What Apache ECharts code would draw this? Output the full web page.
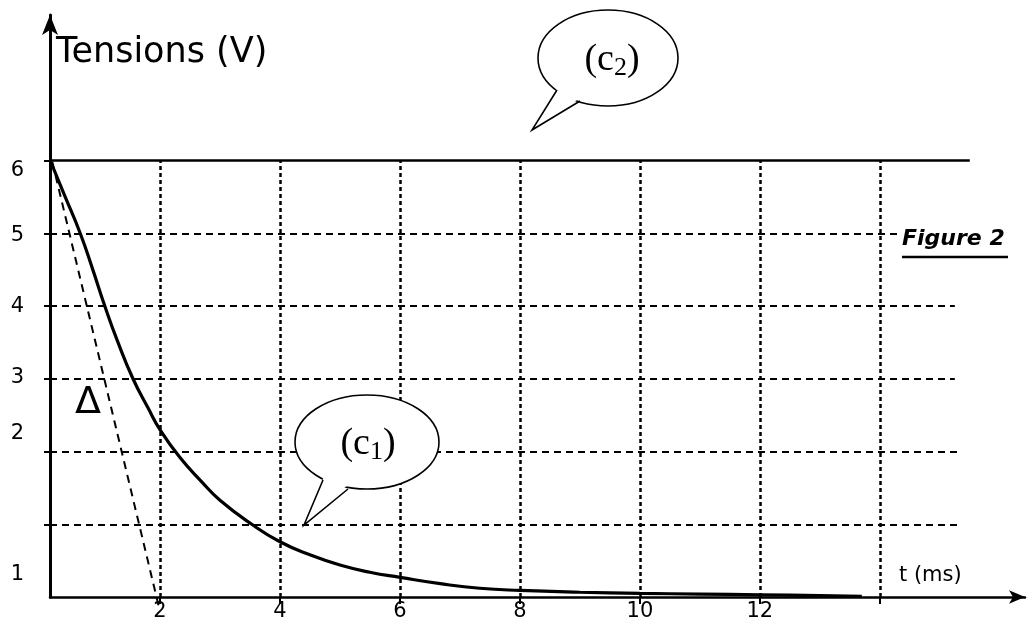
<!DOCTYPE html>
<html>
<head>
<meta charset="utf-8">
<title>Tensions (V)</title>
<script src="https://cdn.jsdelivr.net/npm/echarts@6/dist/echarts.min.js"></script>
<style>
  html, body { margin: 0; padding: 0; background: #fff; }
  #chart { width: 1028px; height: 635px; }
</style>
</head>
<body>
<div id="chart"></div>
<script>
// courbe (c1) : tension qui decroit (t en ms, u en V)
var tC1 = [0.17, 0.42, 0.67, 0.88, 1.08, 1.3, 1.55, 1.8, 2.0, 2.33, 2.7, 3.0, 3.53, 4.0, 4.5, 5.0, 5.5, 6.0, 6.7, 7.33, 8.0, 9.0, 10.0, 11.0, 12.0, 13.0, 13.7]
var uC1 = [6.0, 5.5, 5.0, 4.5, 4.0, 3.5, 3.0, 2.6, 2.3, 1.92, 1.58, 1.33, 1.0, 0.76, 0.58, 0.44, 0.34, 0.27, 0.18, 0.12, 0.09, 0.065, 0.05, 0.04, 0.03, 0.02, 0.01]
// courbe (c2) : tension constante
var tC2 = [0.17, 15.5]
var uC2 = [6, 6]
// tangente a l'origine
var tTan = [0.15, 1.98]
var uTan = [6.17, -0.13]

var xTicks = [2, 4, 6, 8, 10, 12, 14]
var xLabels = [2, 4, 6, 8, 10, 12]
var yTicks = [1, 2, 3, 4, 5, 6]
// quadrillage horizontal : niveau et abscisse de fin
var hLevels = [1, 2, 3, 4, 5]
var hEnds = [15.3, 15.3, 15.25, 15.25, 14.33]

var pairs = function (xs, ys) {
  return xs.map(function (x, i) { return [x, ys[i]] })
}

var chart = echarts.init(document.getElementById('chart'))

var hLines = hLevels.map(function (v, i) {
  return [{ coord: [1 / 6, v] }, { coord: [hEnds[i], v] }]
})
var vLines = xTicks.map(function (t) {
  return [{ coord: [t, 0] }, { coord: [t, 6] }]
})

// petits decalages des graduations comme sur la figure
var yShift = { 1: 50, 2: -18, 3: -1, 4: 1, 5: 2, 6: 10 }
var rich = {}
yTicks.forEach(function (v) {
  var d = yShift[v]
  rich['l' + v] = {
    fontSize: 21,
    fontFamily: 'DejaVu Sans',
    color: '#000',
    padding: d >= 0 ? [2 * d, 0, 0, 0] : [0, 0, -2 * d, 0]
  }
})

chart.setOption({
  animation: false,
  grid: { left: 50, right: 3, top: 15, bottom: 38 },
  xAxis: {
    type: 'value',
    min: 1 / 6,
    max: 16.42,
    axisLine: { lineStyle: { color: '#000', width: 2.5 }, symbol: ['none', 'arrow'], symbolSize: [10, 16] },
    axisTick: { customValues: xTicks, length: 7, lineStyle: { color: '#000', width: 2 } },
    axisLabel: { customValues: xLabels, color: '#000', fontSize: 21, fontFamily: 'DejaVu Sans', margin: 4 },
    splitLine: { show: false }
  },
  yAxis: {
    type: 'value',
    min: 0,
    max: 8,
    axisLine: { lineStyle: { color: '#000', width: 3 }, symbol: ['none', 'arrow'], symbolSize: [12, 20] },
    axisTick: { customValues: yTicks, length: 6, lineStyle: { color: '#000', width: 2 } },
    axisLabel: {
      customValues: yTicks,
      margin: 26,
      formatter: function (v) { return '{l' + v + '|' + v + '}' },
      rich: rich
    },
    splitLine: { show: false }
  },
  series: [
    {
      name: 'grille',
      type: 'line',
      data: [],
      silent: true,
      markLine: {
        silent: true,
        symbol: ['none', 'none'],
        label: { show: false },
        lineStyle: { color: '#000', width: 2, type: [7, 5] },
        data: hLines
      }
    },
    {
      name: 'grilleV',
      type: 'line',
      data: [],
      silent: true,
      markLine: {
        silent: true,
        symbol: ['none', 'none'],
        label: { show: false },
        lineStyle: { color: '#000', width: 2.5, type: [4, 3] },
        data: vLines
      }
    },
    {
      name: 'c2',
      type: 'line',
      data: pairs(tC2, uC2),
      showSymbol: false,
      lineStyle: { color: '#000', width: 2.5 }
    },
    {
      name: 'tangente',
      type: 'line',
      data: pairs(tTan, uTan),
      showSymbol: false,
      clip: false,
      lineStyle: { color: '#000', width: 2, type: [8, 6] }
    },
    {
      name: 'c1',
      type: 'line',
      data: pairs(tC1, uC1),
      smooth: 0.5,
      showSymbol: false,
      lineStyle: { color: '#000', width: 3.2 }
    }
  ],
  graphic: [
    {
      type: 'text', left: 56, top: 35, z: 100,
      style: { text: 'Tensions (V)', fontSize: 35, fontFamily: 'DejaVu Sans', fill: '#000' }
    },
    {
      type: 'text', left: 899, top: 565, z: 100,
      style: { text: 't (ms)', fontSize: 21, fontFamily: 'DejaVu Sans', fill: '#000' }
    },
    {
      type: 'text', left: 902, top: 228, z: 100,
      style: { text: 'Figure 2', fontSize: 22, fontStyle: 'italic', fontWeight: 'bold', fontFamily: 'DejaVu Sans', fill: '#000' }
    },
    {
      type: 'line', z: 100,
      shape: { x1: 902, y1: 257, x2: 1008, y2: 257 },
      style: { stroke: '#000', lineWidth: 2.5 }
    },
    {
      type: 'text', left: 75, top: 384, z: 100,
      style: { text: 'Δ', fontSize: 38, fontFamily: 'DejaVu Sans', fill: '#000' }
    },
    // bulle (c1)
    {
      type: 'ellipse', z: 100,
      shape: { cx: 367, cy: 442, rx: 72, ry: 47 },
      style: { fill: '#fff', stroke: '#000', lineWidth: 1.6 }
    },
    {
      type: 'polygon', z: 101,
      shape: { points: [[325, 474], [304, 525], [351, 482]] },
      style: { fill: '#fff', lineWidth: 0 }
    },
    {
      type: 'polyline', z: 102,
      shape: { points: [[323, 480], [304, 525], [348, 489]] },
      style: { fill: null, stroke: '#000', lineWidth: 1.6 }
    },
    {
      type: 'text', x: 368, y: 444, z: 103,
      style: {
        text: '(c{s|1})', align: 'center', verticalAlign: 'middle',
        fontSize: 38, fontFamily: 'Liberation Serif', fill: '#000',
        rich: { s: { fontSize: 26, fontFamily: 'Liberation Serif', padding: [16, 0, 0, 0] } }
      }
    },
    // bulle (c2)
    {
      type: 'ellipse', z: 100,
      shape: { cx: 608, cy: 58, rx: 70, ry: 48 },
      style: { fill: '#fff', stroke: '#000', lineWidth: 1.6 }
    },
    {
      type: 'polygon', z: 101,
      shape: { points: [[559, 85], [532, 130], [583, 96]] },
      style: { fill: '#fff', lineWidth: 0 }
    },
    {
      type: 'polyline', z: 102,
      shape: { points: [[557, 90], [532, 130], [580, 101]] },
      style: { fill: null, stroke: '#000', lineWidth: 1.6 }
    },
    {
      type: 'text', x: 612, y: 60, z: 103,
      style: {
        text: '(c{s|2})', align: 'center', verticalAlign: 'middle',
        fontSize: 38, fontFamily: 'Liberation Serif', fill: '#000',
        rich: { s: { fontSize: 26, fontFamily: 'Liberation Serif', padding: [16, 0, 0, 0] } }
      }
    }
  ]
})
</script>
</body>
</html>
